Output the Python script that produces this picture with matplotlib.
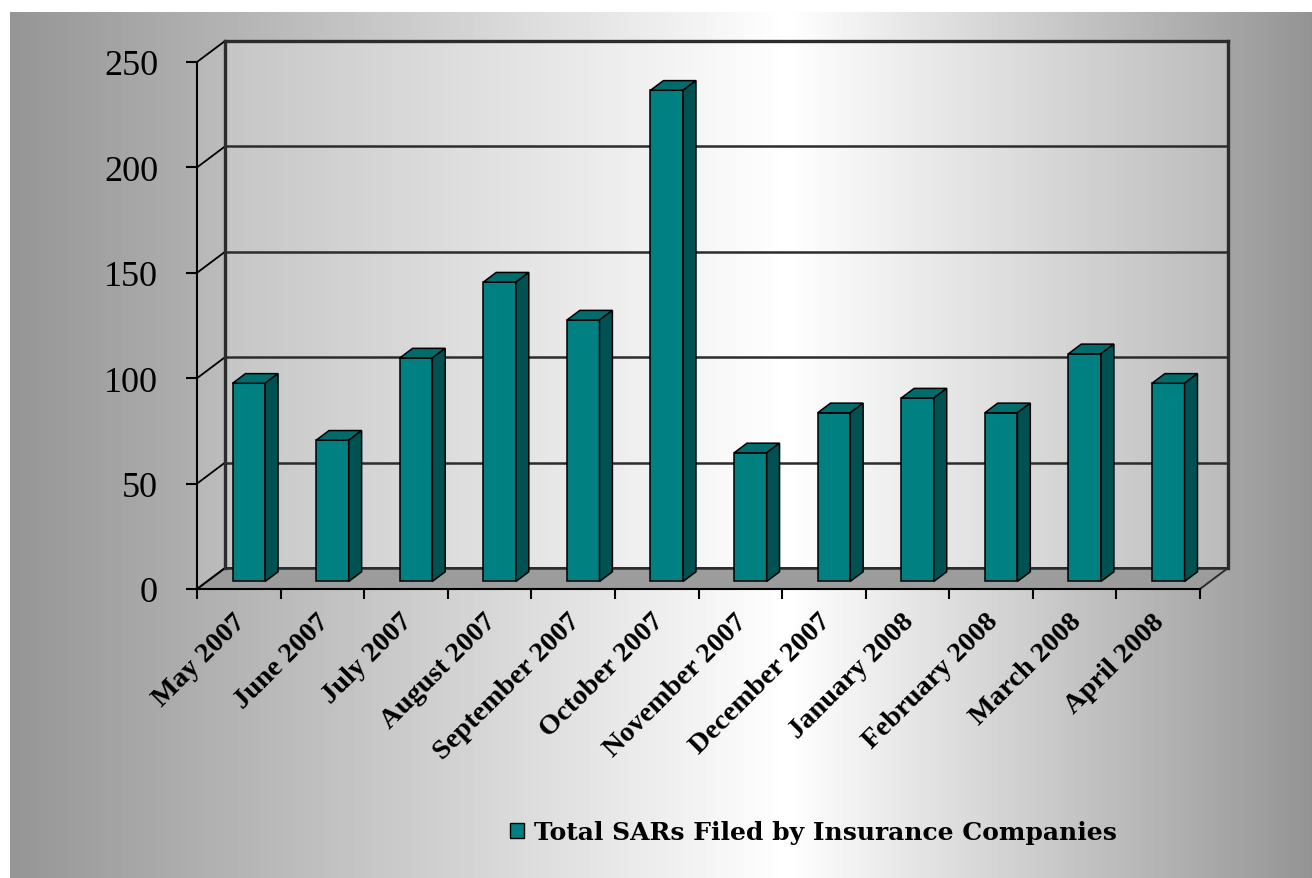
import numpy as np
import matplotlib
matplotlib.use("Agg")
import matplotlib.pyplot as plt
from matplotlib.patches import Polygon, Patch
from matplotlib.transforms import ScaledTranslation

# ---- data ----
months = ["May 2007", "June 2007", "July 2007", "August 2007", "September 2007",
          "October 2007", "November 2007", "December 2007", "January 2008",
          "February 2008", "March 2008", "April 2008"]
sars_filed = [94, 67, 106, 142, 124, 233, 61, 80, 87, 80, 108, 94]
y_ticks = [0, 50, 100, 150, 200, 250]
legend_label = "Total SARs Filed by Insurance Companies"

# ---- styling ----
FRONT = "#008080"
TOP = "#006c6c"
SIDE = "#005252"
WALL_LINE = "#2c2c2c"

W, H = 1312, 879
fig = plt.figure(figsize=(W / 100, H / 100), dpi=100)

# gradient backdrop: grey edges fading to white just right of centre
bg = fig.add_axes([0, 0, 1, 1], zorder=-10)
xs = np.linspace(0, 1, W)
profile = np.interp(xs, [0.0, 0.6, 1.0], [0.58, 1.0, 0.58])
img = np.tile(profile, (H, 1))
img[:13, :] = 1.0
img[:, :10] = 1.0
bg.imshow(img, cmap="gray", vmin=0, vmax=1, aspect="auto",
          extent=[0, 1, 0, 1], interpolation="bilinear")
bg.axis("off")

# front plane of the 3-D box, in pixels
L, R, T, B = 197, 1200, 63, 590
ax = fig.add_axes([L / W, (H - B) / H, (R - L) / W, (B - T) / H])
n = len(months)
ymax = y_ticks[-1]
ax.set_xlim(0, n)
ax.set_ylim(0, ymax)
ax.patch.set_visible(False)

# depth of the box expressed in data units
DX = 28 / (R - L) * n
DY = 21 / (B - T) * ymax

# back wall and left side wall
ax.add_patch(Polygon([(DX, DY), (n + DX, DY), (n + DX, ymax + DY), (DX, ymax + DY)],
                     closed=True, facecolor="white", alpha=0.25, edgecolor="none",
                     clip_on=False, zorder=0))
ax.add_patch(Polygon([(0, 0), (DX, DY), (DX, ymax + DY), (0, ymax)],
                     closed=True, facecolor="white", alpha=0.12, edgecolor="none",
                     clip_on=False, zorder=0))

# floor
ax.add_patch(Polygon([(0, 0), (n, 0), (n + DX, DY), (DX, DY)], closed=True,
                     facecolor="#9c9c9c", edgecolor=WALL_LINE, linewidth=1.4,
                     clip_on=False, zorder=1))

# gridlines on the back wall and their diagonals on the side wall
for t in y_ticks:
    ax.plot([DX, n + DX], [t + DY, t + DY], color=WALL_LINE, lw=1.8,
            clip_on=False, zorder=1.5, solid_capstyle="butt")
    ax.plot([0, DX], [t, t + DY], color="black", lw=1.3, clip_on=False, zorder=1.5)
ax.plot([DX, DX], [DY, ymax + DY], color=WALL_LINE, lw=2.4, clip_on=False, zorder=1.6)
ax.plot([n + DX, n + DX], [DY, ymax + DY], color=WALL_LINE, lw=2.4, clip_on=False, zorder=1.6)
ax.plot([DX, n + DX], [ymax + DY, ymax + DY], color=WALL_LINE, lw=2.4, clip_on=False, zorder=1.6)

# 3-D columns: front faces as bars, tops and sides as polygons
d1, d2 = 0.36, 0.82
bw = 0.39
dd = d2 - d1
base = d1 * DY
centers = np.arange(n) + 0.5 + d1 * DX
ax.bar(centers, sars_filed, width=bw, bottom=base, color=FRONT,
       edgecolor="black", linewidth=1.1, zorder=3, clip_on=False)
for c, v in zip(centers, sars_filed):
    x0, x1 = c - bw / 2, c + bw / 2
    top = base + v
    ox, oy = dd * DX, dd * DY
    ax.add_patch(Polygon([(x0, top), (x1, top), (x1 + ox, top + oy), (x0 + ox, top + oy)],
                         closed=True, facecolor=TOP, edgecolor="black", linewidth=1.1,
                         zorder=3, clip_on=False))
    ax.add_patch(Polygon([(x1, base), (x1, top), (x1 + ox, top + oy), (x1 + ox, base + oy)],
                         closed=True, facecolor=SIDE, edgecolor="black", linewidth=1.1,
                         zorder=3, clip_on=False))

# axes lines and ticks
for s in ("top", "right"):
    ax.spines[s].set_visible(False)
for s in ("left", "bottom"):
    ax.spines[s].set_color("black")
    ax.spines[s].set_linewidth(1.5)
    ax.spines[s].set_zorder(4)

ax.set_yticks(y_ticks)
ax.set_yticklabels([str(t) for t in y_ticks], fontfamily="Liberation Serif", fontsize=26)
ax.tick_params(axis="y", direction="out", length=8, width=1.5, pad=20, colors="black")

ax.set_xticks(np.arange(n + 1))
ax.set_xticklabels([])
ax.tick_params(axis="x", which="major", direction="out", length=7, width=1.5)
ax.set_xticks(np.arange(n) + 0.5, minor=True)
ax.set_xticklabels(months, minor=True, rotation=45, ha="right", va="top",
                   rotation_mode="anchor", fontfamily="Liberation Serif",
                   fontweight="bold", fontsize=20.5)
ax.tick_params(axis="x", which="minor", length=0, pad=14)
shift = ScaledTranslation(-6 / 100, 0, fig.dpi_scale_trans)
for lab in ax.get_xticklabels(minor=True):
    lab.set_transform(lab.get_transform() + shift)

# legend
fig.legend(handles=[Patch(facecolor=FRONT, edgecolor="black", linewidth=1.0)],
           labels=[legend_label], loc="center left",
           bbox_to_anchor=(510 / W, 1 - 833 / H), frameon=False,
           prop=dict(family="DejaVu Serif", weight="bold", size=18),
           handlelength=0.55, handleheight=0.55, handletextpad=0.4,
           borderpad=0, borderaxespad=0)

fig.savefig("out.png", dpi=100)
